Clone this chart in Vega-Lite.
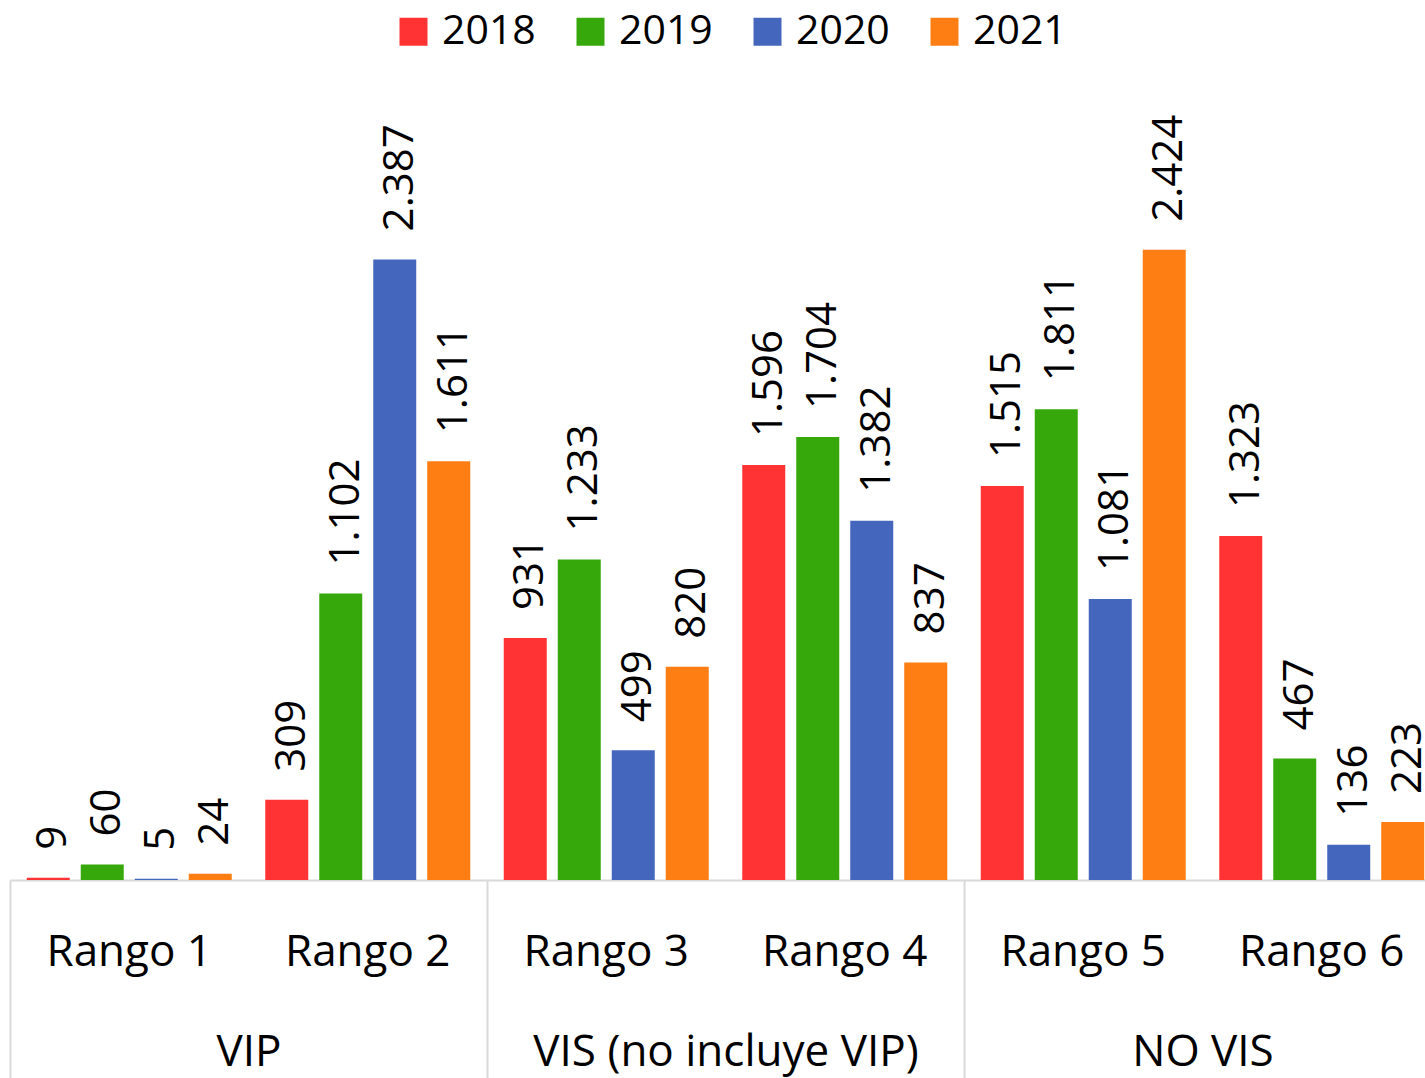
{
  "$schema": "https://vega.github.io/schema/vega-lite/v6.json",
  "width": 1415,
  "height": 780,
  "autosize": {"type": "none"},
  "padding": {"left": 10, "top": 100, "right": 0, "bottom": 198},
  "background": "white",
  "config": {
    "view": {"stroke": null},
    "locale": {"number": {"decimal": ",", "thousands": ".", "grouping": [3], "currency": ["", " €"]}},
    "axis": {"grid": false}
  },
  "data": {
    "values": [
      {"grupo": "VIP", "rango": "Rango 1", "anio": "2018", "valor": 9},
      {"grupo": "VIP", "rango": "Rango 1", "anio": "2019", "valor": 60},
      {"grupo": "VIP", "rango": "Rango 1", "anio": "2020", "valor": 5},
      {"grupo": "VIP", "rango": "Rango 1", "anio": "2021", "valor": 24},
      {"grupo": "VIP", "rango": "Rango 2", "anio": "2018", "valor": 309},
      {"grupo": "VIP", "rango": "Rango 2", "anio": "2019", "valor": 1102},
      {"grupo": "VIP", "rango": "Rango 2", "anio": "2020", "valor": 2387},
      {"grupo": "VIP", "rango": "Rango 2", "anio": "2021", "valor": 1611},
      {"grupo": "VIS (no incluye VIP)", "rango": "Rango 3", "anio": "2018", "valor": 931},
      {"grupo": "VIS (no incluye VIP)", "rango": "Rango 3", "anio": "2019", "valor": 1233},
      {"grupo": "VIS (no incluye VIP)", "rango": "Rango 3", "anio": "2020", "valor": 499},
      {"grupo": "VIS (no incluye VIP)", "rango": "Rango 3", "anio": "2021", "valor": 820},
      {"grupo": "VIS (no incluye VIP)", "rango": "Rango 4", "anio": "2018", "valor": 1596},
      {"grupo": "VIS (no incluye VIP)", "rango": "Rango 4", "anio": "2019", "valor": 1704},
      {"grupo": "VIS (no incluye VIP)", "rango": "Rango 4", "anio": "2020", "valor": 1382},
      {"grupo": "VIS (no incluye VIP)", "rango": "Rango 4", "anio": "2021", "valor": 837},
      {"grupo": "NO VIS", "rango": "Rango 5", "anio": "2018", "valor": 1515},
      {"grupo": "NO VIS", "rango": "Rango 5", "anio": "2019", "valor": 1811},
      {"grupo": "NO VIS", "rango": "Rango 5", "anio": "2020", "valor": 1081},
      {"grupo": "NO VIS", "rango": "Rango 5", "anio": "2021", "valor": 2424},
      {"grupo": "NO VIS", "rango": "Rango 6", "anio": "2018", "valor": 1323},
      {"grupo": "NO VIS", "rango": "Rango 6", "anio": "2019", "valor": 467},
      {"grupo": "NO VIS", "rango": "Rango 6", "anio": "2020", "valor": 136},
      {"grupo": "NO VIS", "rango": "Rango 6", "anio": "2021", "valor": 223}
    ]
  },
  "layer": [
    {
      "encoding": {
        "x": {
          "field": "rango", "type": "nominal", "title": null,
          "scale": {"type": "band", "range": [0, 1431], "paddingInner": 0, "paddingOuter": 0},
          "axis": {
            "orient": "bottom",
            "domain": true, "domainColor": "#D9D9D9", "domainWidth": 2,
            "ticks": false, "tickSize": 0,
            "labelAngle": 0, "labelFont": "Open Sans", "labelFontSize": 44, "labelColor": "black",
            "labelPadding": 50, "labelOverlap": false, "labelLimit": 0
          }
        },
        "xOffset": {
          "field": "anio", "type": "nominal",
          "scale": {"paddingInner": 0.2037, "paddingOuter": 0.3102}
        },
        "y": {
          "field": "valor", "type": "quantitative",
          "scale": {"domain": [0, 3000], "nice": false},
          "axis": null
        }
      },
      "layer": [
        {
          "mark": {"type": "bar"},
          "encoding": {
            "color": {
              "field": "anio", "type": "nominal",
              "scale": {"domain": ["2018", "2019", "2020", "2021"], "range": ["#FF3333", "#37A80B", "#4466BD", "#FF7E13"]},
              "legend": {
                "orient": "none", "legendX": 383, "legendY": -89,
                "direction": "horizontal", "title": null,
                "symbolType": "square", "symbolSize": 784, "symbolStrokeWidth": 0, "symbolOpacity": 1,
                "labelFont": "Open Sans", "labelFontSize": 41, "labelColor": "black",
                "labelOffset": 8, "columnPadding": 34, "padding": 0
              }
            }
          }
        },
        {
          "mark": {"type": "text", "angle": 270, "align": "left", "baseline": "middle", "dx": 28, "dy": 5, "font": "Open Sans", "fontSize": 42, "color": "black"},
          "encoding": {
            "text": {"field": "valor", "type": "quantitative", "format": ",.0f"}
          }
        }
      ]
    },
    {
      "mark": {"type": "point", "opacity": 0},
      "encoding": {
        "x": {
          "field": "grupo", "type": "nominal", "title": null,
          "sort": ["VIP", "VIS (no incluye VIP)", "NO VIS"],
          "scale": {"type": "band", "range": [0, 1431], "paddingInner": 0, "paddingOuter": 0},
          "axis": {
            "orient": "bottom",
            "domain": false,
            "ticks": true, "tickSize": 198, "tickColor": "#D9D9D9", "tickWidth": 2, "tickBand": "extent",
            "labelAngle": 0, "labelFont": "Open Sans", "labelFontSize": 44, "labelColor": "black",
            "labelPadding": -48, "labelOverlap": false, "labelLimit": 0
          }
        }
      }
    }
  ],
  "resolve": {"scale": {"x": "independent"}, "axis": {"x": "independent"}}
}
